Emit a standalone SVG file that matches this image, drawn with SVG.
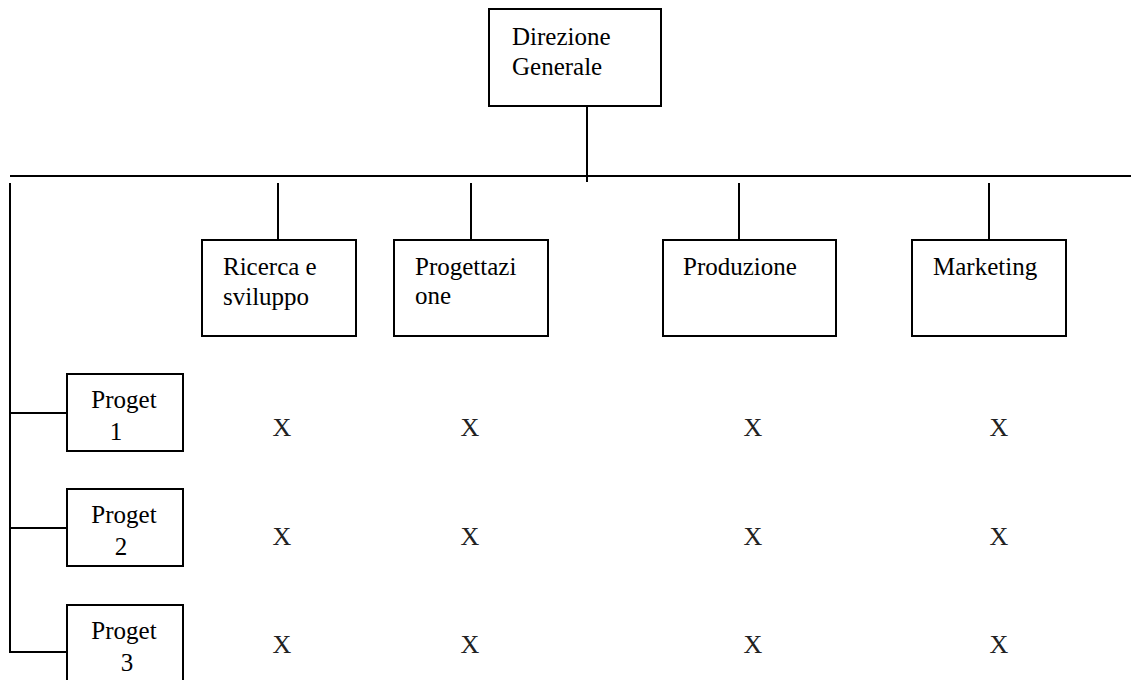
<svg xmlns="http://www.w3.org/2000/svg" width="1131" height="680" viewBox="0 0 1131 680">
  <style>
    .box { fill: #ffffff; stroke: #000000; stroke-width: 2; }
    .wire { stroke: #000000; stroke-width: 2; fill: none; }
    .lbl { font-family: "Liberation Serif", "Times New Roman", Times, serif; font-size: 25px; fill: #000000; }
    .mark { font-family: "Liberation Serif", "Times New Roman", Times, serif; font-size: 26px; fill: #222222; text-anchor: middle; }
    .mid { text-anchor: middle; }
  </style>
  <rect width="1131" height="680" fill="#ffffff"/>

  <!-- connectors -->
  <g id="connectors">
    <line class="wire" x1="587" y1="106" x2="587" y2="182"/>
    <line class="wire" x1="10" y1="176" x2="1131" y2="176"/>
    <line class="wire" x1="278" y1="183" x2="278" y2="240"/>
    <line class="wire" x1="471" y1="183" x2="471" y2="240"/>
    <line class="wire" x1="739" y1="183" x2="739" y2="240"/>
    <line class="wire" x1="989" y1="183" x2="989" y2="240"/>
    <line class="wire" x1="10" y1="183" x2="10" y2="653"/>
    <line class="wire" x1="10" y1="413" x2="67" y2="413"/>
    <line class="wire" x1="10" y1="528" x2="67" y2="528"/>
    <line class="wire" x1="10" y1="652" x2="67" y2="652"/>
  </g>

  <g id="direzione">
    <rect class="box" x="489" y="9" width="172" height="97"/>
    <text class="lbl" x="512" y="45">Direzione</text>
    <text class="lbl" x="512" y="75">Generale</text>
  </g>

  <g id="ricerca">
    <rect class="box" x="202" y="240" width="154" height="96"/>
    <text class="lbl" x="223" y="275">Ricerca e</text>
    <text class="lbl" x="223" y="305">sviluppo</text>
  </g>

  <g id="progettazione">
    <rect class="box" x="394" y="240" width="154" height="96"/>
    <text class="lbl" x="415" y="275">Progettazi</text>
    <text class="lbl" x="415" y="304">one</text>
  </g>

  <g id="produzione">
    <rect class="box" x="663" y="240" width="173" height="96"/>
    <text class="lbl" x="683" y="275">Produzione</text>
  </g>

  <g id="marketing">
    <rect class="box" x="912" y="240" width="154" height="96"/>
    <text class="lbl" x="933" y="275">Marketing</text>
  </g>

  <g id="progetto1">
    <rect class="box" x="67" y="374" width="116" height="77"/>
    <text class="lbl mid" x="124" y="408">Proget</text>
    <text class="lbl mid" x="116" y="440">1</text>
  </g>

  <g id="progetto2">
    <rect class="box" x="67" y="489" width="116" height="77"/>
    <text class="lbl mid" x="124" y="523">Proget</text>
    <text class="lbl mid" x="121" y="555">2</text>
  </g>

  <g id="progetto3">
    <rect class="box" x="67" y="605" width="116" height="80"/>
    <text class="lbl mid" x="124" y="639">Proget</text>
    <text class="lbl mid" x="127" y="671">3</text>
  </g>

  <!-- assignment matrix -->
  <g id="matrix">
    <text class="mark" x="282" y="436">X</text>
    <text class="mark" x="470" y="436">X</text>
    <text class="mark" x="753" y="436">X</text>
    <text class="mark" x="999" y="436">X</text>
    <text class="mark" x="282" y="545">X</text>
    <text class="mark" x="470" y="545">X</text>
    <text class="mark" x="753" y="545">X</text>
    <text class="mark" x="999" y="545">X</text>
    <text class="mark" x="282" y="653">X</text>
    <text class="mark" x="470" y="653">X</text>
    <text class="mark" x="753" y="653">X</text>
    <text class="mark" x="999" y="653">X</text>
  </g>
</svg>
